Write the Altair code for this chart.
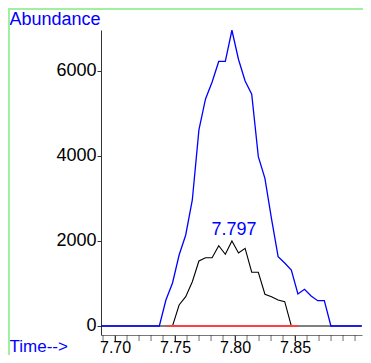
import altair as alt
import pandas as pd

# scan times (min) of the peak region
blue_times = [7.6886, 7.7369, 7.7424, 7.7479, 7.7534, 7.7589, 7.7644, 7.7699, 7.7754,
              7.7809, 7.7864, 7.7919, 7.7974, 7.8029, 7.8084, 7.8139, 7.8194,
              7.8249, 7.8304, 7.8359, 7.8414, 7.8469, 7.8524, 7.8579, 7.8634,
              7.8689, 7.8744, 7.8799, 7.9056]
blue_values = [0, 0, 612, 1012, 1670, 2141, 2965, 4612, 5341, 5741, 6224, 6224,
               6958, 6270, 5765, 5452, 3984, 3475, 2518, 1631, 1482, 1318,
               753, 864, 706, 595, 595, 0, 0]

black_times = [7.6886, 7.7479, 7.7534, 7.7589, 7.7644, 7.7699, 7.7754, 7.7809,
               7.7864, 7.7919, 7.7974, 7.8029, 7.8084, 7.8139, 7.8194, 7.8249,
               7.8304, 7.8359, 7.8414, 7.8469, 7.9056]
black_values = [0, 0, 494, 689, 1042, 1529, 1607, 1607, 1889, 1687, 2000, 1718,
                1828, 1264, 1264, 746, 689, 612, 572, 0, 0]

baseline_times = [7.7431, 7.8523]
baseline_values = [0, 0]

peak_time = [7.7974]
peak_value = [2000]
peak_label = ["7.797"]

minor_ticks = [7.69, 7.70, 7.71, 7.72, 7.73, 7.74, 7.75, 7.76, 7.77, 7.78, 7.79,
               7.80, 7.81, 7.82, 7.83, 7.84, 7.85, 7.86, 7.87, 7.88, 7.89, 7.90]
x_label_ticks = [7.70, 7.75, 7.80, 7.85]
y_ticks = [0, 2000, 4000, 6000]

FONT = "Liberation Sans"
FS = 18
BLUE = "#0000ff"
GREEN = "#a0f0a0"

blue_df = pd.DataFrame({"t": blue_times, "v": blue_values})
black_df = pd.DataFrame({"t": black_times, "v": black_values})
base_df = pd.DataFrame({"t": baseline_times, "v": baseline_values})
peak_df = pd.DataFrame({"t": peak_time, "v": peak_value, "lab": peak_label})
minor_df = pd.DataFrame({"t": minor_ticks})

x_scale = alt.Scale(domain=[7.6883, 7.9058], nice=False, zero=False)
y_scale = alt.Scale(domain=[-212, 6964], nice=False, zero=False)

x_enc = alt.X("t:Q", scale=x_scale, axis=alt.Axis(
    values=x_label_ticks, format=".2f",
    grid=False, tickSize=6, tickColor="#333333", domainColor="#777777",
    labelFont=FONT, labelFontSize=16, labelColor="#000000", labelPadding=-2,
    labelFlush=False, labelOverlap=False,
    title="Time-->", titleFont=FONT, titleFontSize=17, titleColor=BLUE,
    titleFontWeight="normal", titleAngle=0, titleAlign="left",
    titleBaseline="alphabetic", titleX=-92, titleY=16))
y_enc = alt.Y("v:Q", scale=y_scale, axis=alt.Axis(
    values=y_ticks, format="d", grid=False, tickSize=4, tickColor="#333333",
    domainColor="#333333",
    labelFont=FONT, labelFontSize=FS, labelColor="#000000", labelPadding=1,
    labelFlush=False,
    title="Abundance", titleFont=FONT, titleFontSize=FS, titleColor=BLUE,
    titleFontWeight="normal", titleAngle=0, titleAlign="left",
    titleBaseline="alphabetic", titleX=-92, titleY=-6))

black_line = alt.Chart(black_df).mark_line(color="#000000", strokeWidth=1.1).encode(x=x_enc, y=y_enc)
blue_line = alt.Chart(blue_df).mark_line(color=BLUE, strokeWidth=1.3).encode(x="t:Q", y="v:Q")
red_line = alt.Chart(base_df).mark_line(color="#ff4040", strokeWidth=1.8).encode(x="t:Q", y="v:Q")
peak_text = alt.Chart(peak_df).mark_text(
    font=FONT, fontSize=FS, color=BLUE, baseline="alphabetic", align="center", dy=-6, dx=2
).encode(x="t:Q", y="v:Q", text="lab:N")
minor = alt.Chart(minor_df).mark_tick(color="#333333", size=6, thickness=1).encode(
    x="t:Q", y=alt.value(308))

frame_df = pd.DataFrame({"k": [0]})
frame = alt.Chart(frame_df)
top_rule = frame.mark_rule(color=GREEN, strokeWidth=2).encode(
    x=alt.value(-93), x2=alt.value(262), y=alt.value(-21))
left_rule = frame.mark_rule(color=GREEN, strokeWidth=2).encode(
    x=alt.value(-92), y=alt.value(-22), y2=alt.value(335))

chart = alt.layer(
    black_line, red_line, blue_line, peak_text, minor,
    top_rule, left_rule
).properties(
    width=261, height=305,
    autosize=alt.AutoSizeParams(type="none"),
    padding={"left": 93, "top": 22, "right": 1, "bottom": 20},
).configure_view(stroke=None)

chart.save("out.html", embed_options={"renderer": "svg", "actions": False})
